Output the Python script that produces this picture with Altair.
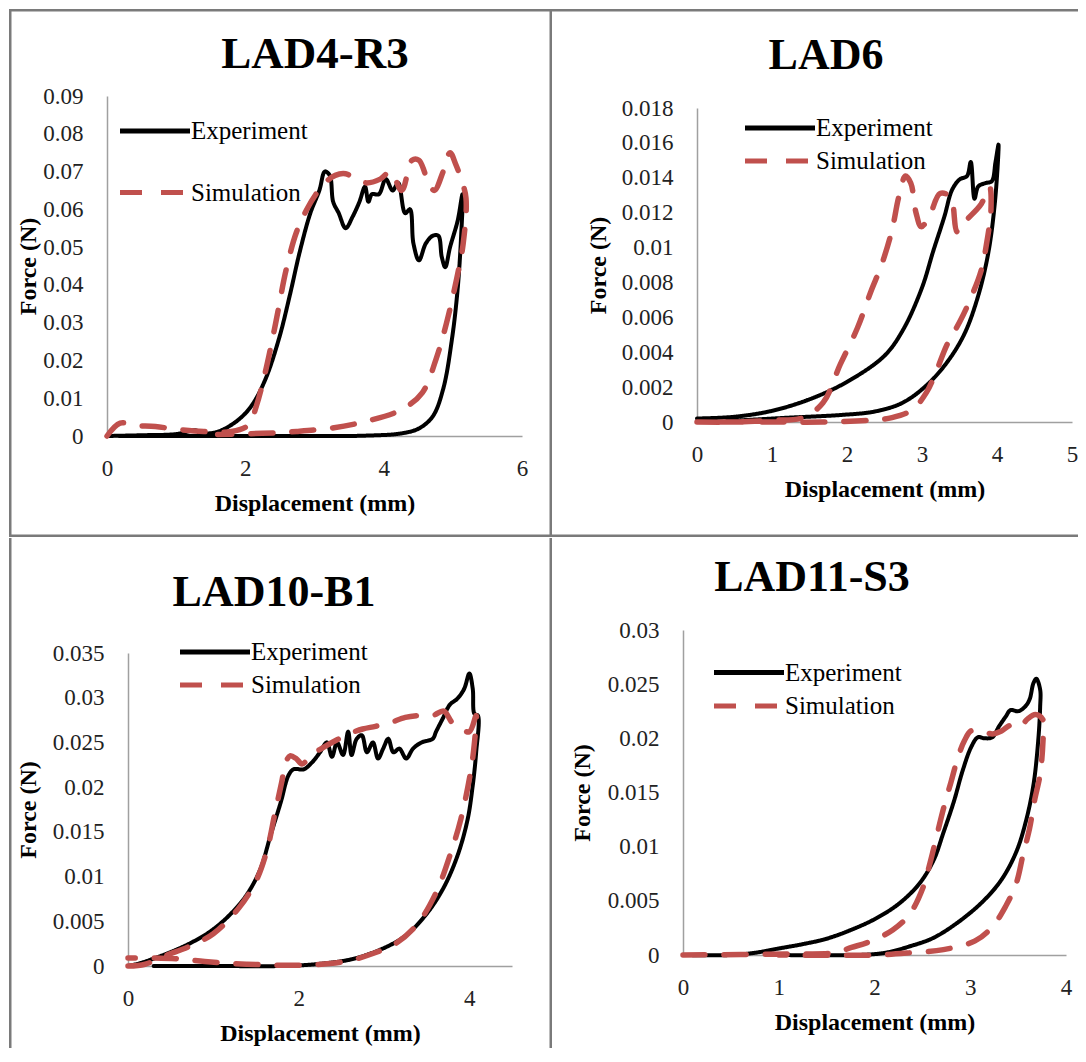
import altair as alt
import pandas as pd

# ---------------- data ----------------
SERIES = ["Experiment", "Simulation"]
TITLES = ["LAD4-R3", "LAD6", "LAD10-B1", "LAD11-S3"]

# (displacement mm, force N) in drawing order: loading then unloading
LAD4_EXP = [(0, 0), (0.5, 0.0002), (1.0, 0.0005), (1.28, 0.0015), (1.35, 0.0008), (1.58, 0.001),
            (1.88, 0.004), (2.09, 0.008), (2.29, 0.015), (2.49, 0.026), (2.64, 0.037), (2.79, 0.049),
            (2.94, 0.059), (3.07, 0.065), (3.15, 0.070), (3.22, 0.069), (3.27, 0.062), (3.35, 0.059),
            (3.45, 0.055), (3.55, 0.058), (3.65, 0.062), (3.73, 0.066), (3.78, 0.062), (3.83, 0.064),
            (3.93, 0.064), (4.03, 0.068), (4.13, 0.065), (4.21, 0.067), (4.31, 0.059), (4.38, 0.060),
            (4.43, 0.051), (4.51, 0.0465), (4.61, 0.051), (4.71, 0.053), (4.79, 0.053), (4.84, 0.0474),
            (4.89, 0.0447), (4.96, 0.050), (5.07, 0.057), (5.14, 0.064), (5.12, 0.053), (5.07, 0.039),
            (4.99, 0.026), (4.86, 0.0124), (4.71, 0.0052), (4.51, 0.002), (4.26, 0.0007), (3.75, 0.0001),
            (2.5, 0), (1.0, 0), (0.17, 0)]
LAD4_SIM = [(0, 0), (0.19, 0.0034), (0.4, 0.0028), (0.7, 0.0025), (1.0, 0.0018), (1.4, 0.0012),
            (1.8, 0.0012), (2.05, 0.003), (2.16, 0.008), (2.29, 0.017), (2.44, 0.030), (2.59, 0.044),
            (2.74, 0.054), (2.89, 0.060), (3.02, 0.064), (3.15, 0.067), (3.30, 0.069), (3.45, 0.0694),
            (3.60, 0.068), (3.75, 0.067), (3.95, 0.068), (4.10, 0.070), (4.26, 0.065), (4.41, 0.073),
            (4.51, 0.073), (4.61, 0.069), (4.73, 0.065), (4.86, 0.070), (4.96, 0.075), (5.04, 0.072),
            (5.12, 0.068), (5.19, 0.063), (5.15, 0.051), (5.06, 0.042), (4.91, 0.030), (4.76, 0.0205),
            (4.56, 0.0115), (4.26, 0.007), (3.75, 0.0039), (3.25, 0.0021), (2.74, 0.0012), (2.24, 0.0007),
            (1.6, 0.0004)]

LAD6_EXP = [(0, 0.0002), (0.5, 0.0003), (1.0, 0.00064), (1.5, 0.0013), (2.0, 0.0023), (2.5, 0.0038),
            (2.75, 0.0053), (3.0, 0.0077), (3.15, 0.0098), (3.3, 0.0118), (3.4, 0.0133), (3.5, 0.0139),
            (3.6, 0.0141), (3.65, 0.0149), (3.7, 0.0128), (3.75, 0.0135), (3.85, 0.0137), (3.93, 0.0138),
            (3.98, 0.0149), (4.02, 0.0159), (4.02, 0.0156), (3.97, 0.0125), (3.88, 0.0096), (3.74, 0.0071),
            (3.56, 0.005), (3.33, 0.0034), (3.06, 0.0021), (2.74, 0.0011), (2.37, 0.0006), (1.91, 0.0004),
            (1.23, 0.00025), (0.4, 0.00005)]
LAD6_SIM = [(0, 0), (0.5, 0), (1.0, 0.0001), (1.41, 0.00025), (1.68, 0.0011), (1.91, 0.0033),
            (2.14, 0.0054), (2.32, 0.0075), (2.46, 0.009), (2.6, 0.011), (2.69, 0.0129), (2.78, 0.0141),
            (2.85, 0.0137), (2.92, 0.012), (2.99, 0.0112), (3.1, 0.0118), (3.24, 0.0131), (3.38, 0.0129),
            (3.47, 0.0109), (3.6, 0.0116), (3.79, 0.0125), (3.9, 0.0135), (3.92, 0.0122), (3.86, 0.0102),
            (3.79, 0.0087), (3.65, 0.0071), (3.51, 0.0058), (3.33, 0.0044), (3.19, 0.0029), (3.06, 0.0017),
            (2.87, 0.0007), (2.6, 0.00025), (2.32, 0.0001), (1.68, 0), (1.0, 0), (0.3, 0)]

LAD10_EXP = [(0, 0), (0.14, 0.0003), (0.35, 0.001), (0.56, 0.0018), (0.76, 0.0027), (0.97, 0.0039),
             (1.18, 0.0056), (1.38, 0.0078), (1.55, 0.0108), (1.67, 0.0146), (1.79, 0.0183), (1.88, 0.0213),
             (1.94, 0.022), (2.06, 0.022), (2.16, 0.0228), (2.25, 0.0239), (2.33, 0.025), (2.39, 0.0234),
             (2.45, 0.025), (2.52, 0.0236), (2.58, 0.0262), (2.62, 0.0236), (2.68, 0.0254), (2.74, 0.0258),
             (2.8, 0.0239), (2.87, 0.025), (2.93, 0.0232), (2.99, 0.0243), (3.05, 0.0254), (3.11, 0.0239),
             (3.18, 0.0243), (3.26, 0.0232), (3.34, 0.0243), (3.44, 0.025), (3.57, 0.0254), (3.61, 0.0262),
             (3.69, 0.0277), (3.77, 0.0292), (3.86, 0.0299), (3.94, 0.031), (4.0, 0.0327), (4.04, 0.031),
             (4.06, 0.0282), (4.1, 0.028), (4.08, 0.0239), (4.04, 0.0202), (3.98, 0.0164), (3.86, 0.0123),
             (3.69, 0.0086), (3.48, 0.0056), (3.24, 0.0033), (2.95, 0.0018), (2.62, 0.00075), (2.2, 0.0002),
             (1.79, 0), (1.0, 0), (0.3, 0)]
LAD10_SIM = [(0, 0), (0.2, 0.0002), (0.45, 0.0012), (0.72, 0.0022), (1.0, 0.0036), (1.3, 0.0065),
             (1.5, 0.0095), (1.63, 0.013), (1.72, 0.017), (1.8, 0.0205), (1.85, 0.0228), (1.9, 0.0235),
             (1.97, 0.0232), (2.04, 0.0226), (2.15, 0.0236), (2.3, 0.0245), (2.45, 0.0253), (2.6, 0.026),
             (2.75, 0.0265), (2.9, 0.0268), (3.07, 0.0272), (3.25, 0.0278), (3.4, 0.028), (3.57, 0.028),
             (3.7, 0.0285), (3.8, 0.0272), (3.9, 0.0265), (4.0, 0.0262), (4.08, 0.028), (4.06, 0.025),
             (4.02, 0.022), (3.9, 0.0164), (3.77, 0.0123), (3.61, 0.0082), (3.4, 0.0048), (3.15, 0.0026),
             (2.87, 0.0014), (2.54, 0.0005), (2.04, 0.0001), (1.4, 0.0002), (0.9, 0.0005), (0.6, 0.0008),
             (0.3, 0.0009), (0, 0.0009)]

LAD11_EXP = [(0, 0), (0.5, 0), (0.75, 0.0002), (1.0, 0.0006), (1.25, 0.001), (1.5, 0.0015),
             (1.75, 0.0023), (2.0, 0.0033), (2.25, 0.0047), (2.47, 0.0066), (2.62, 0.0088), (2.72, 0.0113),
             (2.83, 0.0142), (2.92, 0.017), (3.01, 0.0192), (3.08, 0.0201), (3.15, 0.020), (3.23, 0.0201),
             (3.3, 0.0211), (3.37, 0.022), (3.42, 0.0226), (3.5, 0.0225), (3.57, 0.0229), (3.62, 0.0236),
             (3.66, 0.0251), (3.69, 0.0255), (3.73, 0.0245), (3.73, 0.0229), (3.71, 0.0198), (3.66, 0.0157),
             (3.58, 0.0123), (3.48, 0.0095), (3.33, 0.007), (3.15, 0.0051), (2.9, 0.0032), (2.62, 0.0016),
             (2.37, 0.0008), (2.11, 0.0002), (1.83, 0), (1.0, 0)]
LAD11_SIM = [(0, 0), (1.1, 0.0001), (1.58, 0.0002), (1.76, 0.0007), (1.94, 0.0012), (2.19, 0.0023),
             (2.37, 0.0038), (2.51, 0.0063), (2.58, 0.0085), (2.65, 0.011), (2.72, 0.0135), (2.8, 0.016),
             (2.87, 0.0182), (2.94, 0.0198), (3.01, 0.0207), (3.12, 0.0207), (3.23, 0.0204), (3.33, 0.0207),
             (3.42, 0.0212), (3.51, 0.021), (3.6, 0.0218), (3.68, 0.0222), (3.76, 0.0217), (3.76, 0.0198),
             (3.73, 0.0167), (3.67, 0.0142), (3.62, 0.0117), (3.55, 0.0092), (3.48, 0.0066), (3.37, 0.0045),
             (3.23, 0.0026), (3.05, 0.0013), (2.72, 0.0005), (2.37, 0.0002), (2.0, 0), (1.0, 0)]

X_TICKS = [[0, 2, 4, 6], [0, 1, 2, 3, 4, 5], [0, 2, 4], [0, 1, 2, 3, 4]]
X_DOMAINS = [[0, 6], [0, 5], [0, 4.5], [0, 4]]
Y_TICKS = [
    [0, 0.01, 0.02, 0.03, 0.04, 0.05, 0.06, 0.07, 0.08, 0.09],
    [0, 0.002, 0.004, 0.006, 0.008, 0.01, 0.012, 0.014, 0.016, 0.018],
    [0, 0.005, 0.01, 0.015, 0.02, 0.025, 0.03, 0.035],
    [0, 0.005, 0.01, 0.015, 0.02, 0.025, 0.03],
]
Y_FORMATS = [".2~f", ".3~f", ".3~f", ".3~f"]

# ---------------- styles ----------------
FONT = "Liberation Serif"
COLORS = ["#000000", "#c0504d"]
DASHES = [[1, 0], [22, 19]]
BORDER = "#7a7a7a"
BORDER_W = 2.5
LEGEND_LINE = "M-2,0L2,0"   # legend sample: a horizontal stroke twice as long as the symbol box


def frame(points, name):
    return pd.DataFrame({
        "d": [p[0] for p in points],
        "f": [p[1] for p in points],
        "series": name,
        "idx": list(range(len(points))),
    })


def one():
    return alt.Data(values=[{"k": 1}])


def box(x1, x2, y1, y2, **style):
    return alt.Chart(one()).mark_rect(**style).encode(
        x=alt.value(x1), x2=alt.value(x2), y=alt.value(y1), y2=alt.value(y2))


def panel(i, exp, sim, W, H, L, T, R, B, title_xy, title_size, legend_xy, row_pad,
          ytitle_pad, sides):
    legend = alt.Legend(
        title=None, orient="none", legendX=legend_xy[0], legendY=legend_xy[1],
        symbolType=LEGEND_LINE, symbolSize=1225, symbolStrokeWidth=5,
        labelFont=FONT, labelFontSize=25, labelColor="black", labelOffset=16,
        padding=0, rowPadding=row_pad, labelLimit=0,
    )
    x = alt.X("d:Q", scale=alt.Scale(domain=X_DOMAINS[i], nice=False, zero=False),
              axis=alt.Axis(values=X_TICKS[i], format="~g", title="Displacement (mm)",
                            labelFlush=False, labelOverlap=False, labelPadding=21,
                            titlePadding=11))
    y = alt.Y("f:Q", scale=alt.Scale(domain=[0, Y_TICKS[i][-1]], nice=False),
              axis=alt.Axis(values=Y_TICKS[i], format=Y_FORMATS[i], title="Force (N)",
                            labelFlush=False, labelOverlap=False, labelPadding=24,
                            titlePadding=ytitle_pad))
    color = alt.Color("series:N", scale=alt.Scale(domain=SERIES, range=COLORS), legend=legend)
    dash = alt.StrokeDash("series:N", scale=alt.Scale(domain=SERIES, range=DASHES), legend=legend)

    # invisible cell: fixes the full extent of this panel in the grid
    cell = box(-L, W + R, -T, H + B, fill="white", fillOpacity=0)

    exp_line = alt.Chart(frame(exp, SERIES[0])).mark_line(
        interpolate="catmull-rom", strokeWidth=4, strokeCap="round", strokeJoin="round"
    ).encode(x=x, y=y, color=color, strokeDash=dash, order="idx:Q")
    sim_line = alt.Chart(frame(sim, SERIES[1])).mark_line(
        interpolate="catmull-rom", strokeWidth=5.5, strokeCap="round", strokeJoin="round"
    ).encode(x=x, y=y, color=color, strokeDash=dash, order="idx:Q")

    title = alt.Chart(one()).mark_text(
        text=TITLES[i], font=FONT, fontSize=title_size, fontWeight="bold", color="black",
        align="center", baseline="alphabetic"
    ).encode(x=alt.value(title_xy[0]), y=alt.value(title_xy[1]))

    layers = [cell, exp_line, sim_line, title]
    for s in sides:
        if s == "left":
            layers.append(box(-L, -L + BORDER_W, -T, H + B, fill=BORDER))
        elif s == "right":
            layers.append(box(W + R - BORDER_W, W + R, -T, H + B, fill=BORDER))
        elif s == "top":
            layers.append(box(-L, W + R, -T, -T + BORDER_W, fill=BORDER))
        else:
            layers.append(box(-L, W + R, H + B - BORDER_W, H + B, fill=BORDER))
    return alt.layer(*layers).properties(width=W, height=H)


def spacer():
    # 1x1 invisible anchor so that each grid cell is packed by its full bounds
    return box(0, 1, 0, 1, opacity=0).properties(width=1, height=1)


def indep(c):
    return c.resolve_scale(color="independent", strokeDash="independent").resolve_legend(
        color="independent", strokeDash="independent")


def wrap(p):
    return indep(alt.vconcat(spacer(), p, spacing=0))


p1 = panel(0, LAD4_EXP, LAD4_SIM, 415, 340, 98, 87, 30, 101, (208, -28), 45, (28, 15), 28.5, 2,
           ["left", "top", "right", "bottom"])
p2 = panel(1, LAD6_EXP, LAD6_SIM, 375, 314, 145, 99, 6, 115, (129, -39), 44, (63, 0), 0, 11,
           ["top", "bottom"])
p3 = panel(2, LAD10_EXP, LAD10_SIM, 384, 313, 119, 115, 40, 82, (146, -47), 44, (67, -21), 0, 12,
           ["left", "right"])
p4 = panel(3, LAD11_EXP, LAD11_SIM, 383, 325, 131, 92, 12, 93, (129, -39), 44, (46, 22.5), 0.5, 13,
           [])

row1 = indep(alt.hconcat(spacer(), wrap(p1), wrap(p2), spacing=0))
row2 = indep(alt.hconcat(spacer(), wrap(p3), wrap(p4), spacing=0))

chart = indep(alt.vconcat(row1, row2, spacing=0)).properties(
    padding=0, background="white"
).configure_view(stroke=None).configure_axis(
    grid=False, ticks=False, tickSize=0, domainColor="#a0a0a0", domainWidth=1.5,
    labelFont=FONT, labelFontSize=23, labelColor="#222222",
    titleFont=FONT, titleFontSize=24, titleFontWeight="bold", titleColor="black",
)

chart.save("out.html", embed_options={"renderer": "svg", "actions": False})
